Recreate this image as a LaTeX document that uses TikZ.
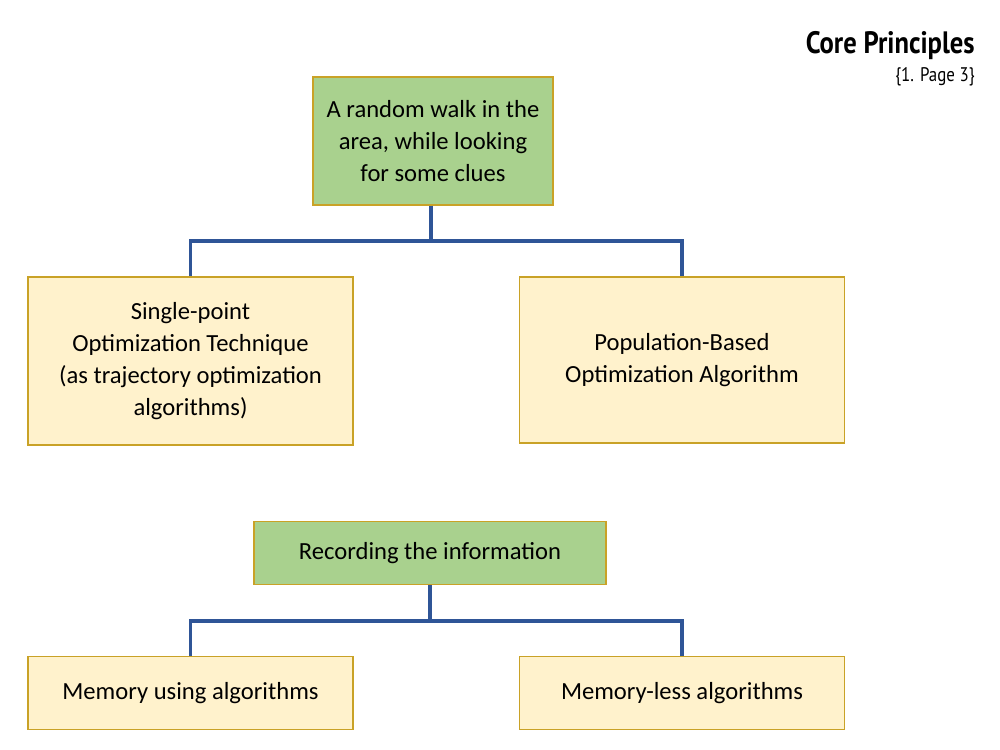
\documentclass[tikz,border=0pt]{standalone}
\usepackage{fontspec}
\setmainfont{Carlito}
\newfontfamily\headfont[FakeStretch=0.86]{PT Sans}
\definecolor{boxgreen}{HTML}{A9D18E}
\definecolor{boxcream}{HTML}{FFF2CC}
\definecolor{boxedge}{HTML}{C9A227}
\definecolor{linkblue}{HTML}{2F5597}
\begin{document}
\begin{tikzpicture}[x=0.025cm, y=-0.025cm,
    every node/.style={font=\fontsize{17.5}{22.8}\selectfont, align=center,
                       draw=boxedge, line width=0.8pt, inner sep=2pt},
    headbox/.style={fill=boxgreen},
    leafbox/.style={fill=boxcream, minimum width=8.125cm},
    link/.style={draw=linkblue, line width=2.2pt}]
  \useasboundingbox (0,0) rectangle (1000,750);
  % title
  \node[draw=none, anchor=north east, font=\headfont\bfseries\fontsize{22}{24}\selectfont]
    (title) at (978,28) {Core Principles};
  \node[draw=none, anchor=north east, font=\headfont\fontsize{14}{16}\selectfont]
    (source) at (978,64) {\{1. Page 3\}};
  % first tree
  \node[headbox, minimum width=6cm, minimum height=3.2cm] (walk) at (433,141)
    {A random walk in the\\ area, while looking\\ for some clues};
  \node[leafbox, minimum height=4.2cm] (single) at (190.5,361)
    {Single-point\\ Optimization Technique\\ (as trajectory optimization\\ algorithms)};
  \node[leafbox, minimum height=4.15cm] (popul) at (682,360)
    {Population-Based\\ Optimization Algorithm};
  \coordinate (busA) at (431,241);
  \draw[link] (walk.south -| busA) -- (busA);
  \draw[link] (busA) -| (single.north);
  \draw[link] (busA) -| (popul.north);
  % second tree
  \node[headbox, minimum width=8.8cm, minimum height=1.575cm] (record) at (430,553)
    {Recording the information};
  \node[leafbox, minimum height=1.825cm] (memory) at (190.5,693)
    {Memory using algorithms};
  \node[leafbox, minimum height=1.825cm] (noMemory) at (682,693)
    {Memory-less algorithms};
  \coordinate (busB) at (430,621);
  \draw[link] (record.south) -- (busB);
  \draw[link] (busB) -| (memory.north);
  \draw[link] (busB) -| (noMemory.north);
\end{tikzpicture}
\end{document}
